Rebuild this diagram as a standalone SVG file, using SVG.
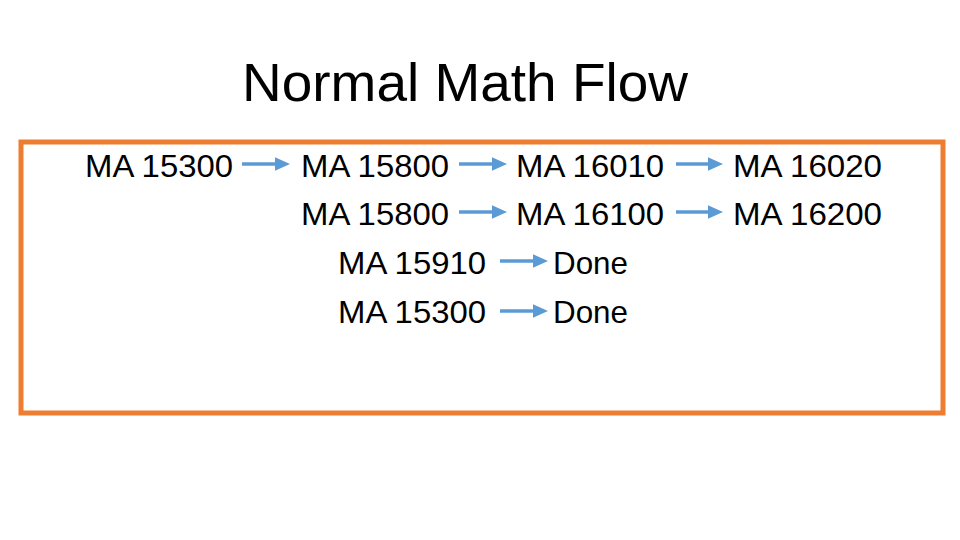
<svg xmlns="http://www.w3.org/2000/svg" width="960" height="540" viewBox="0 0 960 540">
<style>
text{font-family:"Liberation Sans",Arial,sans-serif;fill:#000}
.t{font-size:32px}
.c line{stroke:#5B9BD5;stroke-width:3.5}
</style>
<defs><marker id="a" markerWidth="4.5" markerHeight="4" refX="1" refY="2" orient="auto"><path d="M0,0L4.5,2L0,4Z" fill="#5B9BD5"/></marker></defs>
<rect width="960" height="540" fill="#fff"/>
<text x="242" y="101" font-size="54" textLength="446" lengthAdjust="spacingAndGlyphs">Normal Math Flow</text>
<rect x="21" y="142" width="922" height="271" fill="none" stroke="#ED7D31" stroke-width="5"/>
<g id="n1"><text class="t" x="85" y="177" textLength="148" lengthAdjust="spacingAndGlyphs">MA 15300</text></g>
<g id="n2"><text class="t" x="301" y="177" textLength="148" lengthAdjust="spacingAndGlyphs">MA 15800</text></g>
<g id="n3"><text class="t" x="516" y="177" textLength="148" lengthAdjust="spacingAndGlyphs">MA 16010</text></g>
<g id="n4"><text class="t" x="733" y="177" textLength="149" lengthAdjust="spacingAndGlyphs">MA 16020</text></g>
<g id="n5"><text class="t" x="301" y="225" textLength="148" lengthAdjust="spacingAndGlyphs">MA 15800</text></g>
<g id="n6"><text class="t" x="516" y="225" textLength="148" lengthAdjust="spacingAndGlyphs">MA 16100</text></g>
<g id="n7"><text class="t" x="733" y="225" textLength="149" lengthAdjust="spacingAndGlyphs">MA 16200</text></g>
<g id="n8"><text class="t" x="338" y="274" textLength="148" lengthAdjust="spacingAndGlyphs">MA 15910</text></g>
<g id="n9"><text class="t" x="553" y="274" textLength="75" lengthAdjust="spacingAndGlyphs">Done</text></g>
<g id="n10"><text class="t" x="338" y="323" textLength="148" lengthAdjust="spacingAndGlyphs">MA 15300</text></g>
<g id="n11"><text class="t" x="553" y="323" textLength="75" lengthAdjust="spacingAndGlyphs">Done</text></g>
<g class="c" id="connectors">
<line x1="242" y1="164" x2="278" y2="164" marker-end="url(#a)"/>
<line x1="459" y1="164" x2="495" y2="164" marker-end="url(#a)"/>
<line x1="676" y1="164" x2="711" y2="164" marker-end="url(#a)"/>
<line x1="459" y1="212" x2="495" y2="212" marker-end="url(#a)"/>
<line x1="676" y1="212" x2="711" y2="212" marker-end="url(#a)"/>
<line x1="500" y1="261" x2="536" y2="261" marker-end="url(#a)"/>
<line x1="500" y1="311" x2="536" y2="311" marker-end="url(#a)"/>
</g>
</svg>
